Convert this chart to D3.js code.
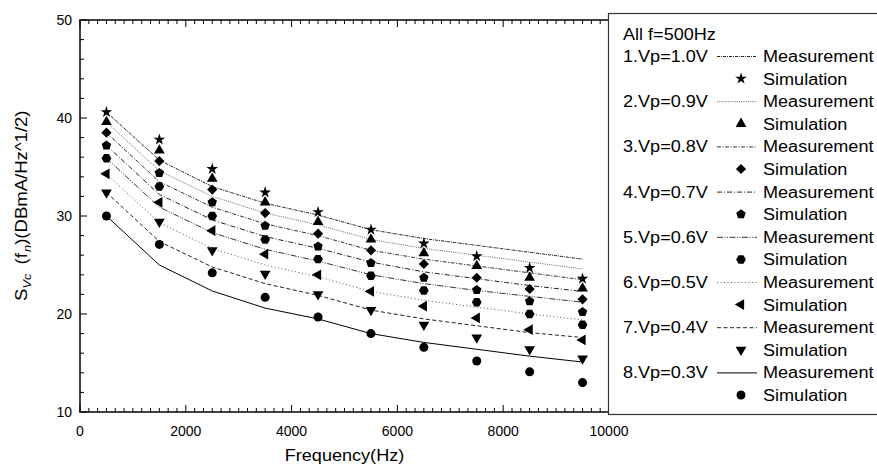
<!DOCTYPE html>
<html>
<head>
<meta charset="utf-8">
<script src="https://cdn.jsdelivr.net/npm/d3@7"></script>
<style>
  body { margin: 0; background: #fff; }
  text { font-family: "Liberation Sans", Arial, sans-serif; fill: #000; }
</style>
</head>
<body>
<div id="chart"></div>
<script>
// frequencies (Hz)
var freq = [500, 1500, 2500, 3500, 4500, 5500, 6500, 7500, 8500, 9500];
var vpLabels = ["1.Vp=1.0V", "2.Vp=0.9V", "3.Vp=0.8V", "4.Vp=0.7V", "5.Vp=0.6V", "6.Vp=0.5V", "7.Vp=0.4V", "8.Vp=0.3V"];

// measurement curves
var meas10 = [40.6, 35.7, 33.0, 31.3, 30.1, 28.6, 27.7, 27.0, 26.3, 25.6];
var meas09 = [39.6, 34.6, 32.0, 30.3, 29.1, 27.6, 26.7, 26.0, 25.3, 24.6];
var meas08 = [38.5, 33.5, 30.9, 29.2, 28.0, 26.5, 25.6, 24.9, 24.2, 23.5];
var meas07 = [37.2, 32.2, 29.6, 27.9, 26.7, 25.3, 24.3, 23.6, 22.9, 22.3];
var meas06 = [35.9, 30.9, 28.3, 26.6, 25.4, 24.0, 23.1, 22.4, 21.8, 21.2];
var meas05 = [34.3, 29.3, 26.7, 25.0, 23.8, 22.3, 21.4, 20.7, 20.0, 19.4];
var meas04 = [32.4, 27.4, 24.8, 23.1, 21.9, 20.4, 19.5, 18.8, 18.1, 17.6];
var meas03 = [30.0, 25.0, 22.35, 20.6, 19.5, 18.0, 17.1, 16.4, 15.7, 15.1];

// simulation points
var sim10 = [40.6, 37.8, 34.8, 32.4, 30.4, 28.6, 27.2, 25.9, 24.7, 23.6];
var sim09 = [39.6, 36.7, 33.8, 31.4, 29.4, 27.6, 26.2, 24.9, 23.7, 22.6];
var sim08 = [38.5, 35.6, 32.7, 30.3, 28.2, 26.5, 25.1, 23.7, 22.55, 21.5];
var sim07 = [37.2, 34.4, 31.4, 29.0, 26.9, 25.2, 23.7, 22.45, 21.3, 20.2];
var sim06 = [35.9, 33.0, 30.0, 27.6, 25.6, 23.9, 22.4, 21.2, 20.0, 18.9];
var sim05 = [34.3, 31.4, 28.5, 26.1, 24.0, 22.3, 20.8, 19.6, 18.4, 17.35];
var sim04 = [32.4, 29.4, 26.5, 24.1, 22.0, 20.4, 18.9, 17.6, 16.4, 15.45];
var sim03 = [30.0, 27.1, 24.2, 21.7, 19.7, 18.0, 16.6, 15.2, 14.1, 13.0];

var xTicks = [0, 2000, 4000, 6000, 8000, 10000];
var yTicks = [10, 20, 30, 40, 50];

var measAll = [meas10, meas09, meas08, meas07, meas06, meas05, meas04, meas03];
var simAll = [sim10, sim09, sim08, sim07, sim06, sim05, sim04, sim03];

var width = 877, height = 465;
var svg = d3.select("#chart").append("svg")
    .attr("width", width)
    .attr("height", height);

var x = d3.scaleLinear().domain([0, 10000]).range([80, 609]);
var y = d3.scaleLinear().domain([10, 50]).range([412, 20]);

// custom polygon markers
function polygon(n, rot) {
  return {
    draw: function(context, size) {
      var r = Math.sqrt(size / (0.5 * n * Math.sin(2 * Math.PI / n)));
      for (var i = 0; i < n; i++) {
        var a = rot + i * 2 * Math.PI / n;
        var px = r * Math.sin(a), py = -r * Math.cos(a);
        if (i === 0) context.moveTo(px, py); else context.lineTo(px, py);
      }
      context.closePath();
    }
  };
}

var markers = [
  { type: d3.symbolStar, size: 42, rot: 0 },
  { type: d3.symbolTriangle, size: 50, rot: 0 },
  { type: d3.symbolSquare, size: 52, rot: 45 },
  { type: polygon(5, 0), size: 58, rot: 0 },
  { type: polygon(6, Math.PI / 6), size: 62, rot: 0 },
  { type: d3.symbolTriangle, size: 50, rot: -90 },
  { type: d3.symbolTriangle, size: 50, rot: 180 },
  { type: d3.symbolCircle, size: 64, rot: 0 }
];

var dashes = ["3,1,1,1", "1,1.2", "4,1.5,1,1.5", "5,2,1,2", "6,1.5,1,1.5,1,1.5", "1,2.5", "4,2.5", null];
var strokes = ["#222", "#666", "#333", "#222", "#333", "#555", "#222", "#000"];

// measurement lines
var line = d3.line()
    .x(function(d) { return x(d[0]); })
    .y(function(d) { return y(d[1]); });

measAll.forEach(function(vals, i) {
  svg.append("path")
      .datum(freq.map(function(f, j) { return [f, vals[j]]; }))
      .attr("d", line)
      .attr("fill", "none")
      .attr("stroke", strokes[i])
      .attr("stroke-width", 1)
      .attr("stroke-dasharray", dashes[i]);
});

// simulation markers
simAll.forEach(function(vals, i) {
  var m = markers[i];
  svg.append("g").selectAll("path")
    .data(freq.map(function(f, j) { return [f, vals[j]]; }))
    .enter().append("path")
      .attr("d", d3.symbol().type(m.type).size(m.size))
      .attr("transform", function(d) { return "translate(" + x(d[0]) + "," + y(d[1]) + ") rotate(" + m.rot + ")"; })
      .attr("fill", "#000");
});

// axes frame
var axisG = svg.append("g").attr("stroke", "#000");
axisG.append("line").attr("x1", 80).attr("x2", 80).attr("y1", 20).attr("y2", 412).attr("stroke-width", 1.5);
axisG.append("line").attr("x1", 79.25).attr("x2", 609).attr("y1", 412).attr("y2", 412).attr("stroke-width", 1.5);
axisG.append("line").attr("x1", 79.25).attr("x2", 609).attr("y1", 20).attr("y2", 20).attr("stroke-width", 1.5);

// x ticks (bottom + top, inward)
var xMinor = d3.range(0, 10001, 2000 / 12);
xMinor.forEach(function(v) {
  var major = Math.abs(v / 2000 - Math.round(v / 2000)) < 1e-6;
  var len = major ? 7 : 4;
  axisG.append("line").attr("x1", x(v)).attr("x2", x(v)).attr("y1", 412).attr("y2", 412 - len).attr("stroke-width", 1);
  axisG.append("line").attr("x1", x(v)).attr("x2", x(v)).attr("y1", 20).attr("y2", 20 + len).attr("stroke-width", 1);
});
d3.range(10, 50.01, 2).forEach(function(v) {
  var len = v % 10 === 0 ? 7 : 4;
  axisG.append("line").attr("x1", 80).attr("x2", 80 + len).attr("y1", y(v)).attr("y2", y(v)).attr("stroke-width", 1);
});

// tick labels
svg.append("g").selectAll("text")
  .data(xTicks).enter().append("text")
    .attr("x", function(d) { return x(d); })
    .attr("y", 436)
    .attr("text-anchor", "middle")
    .style("font-size", "14px")
    .text(function(d) { return d; });

svg.append("g").selectAll("text")
  .data(yTicks).enter().append("text")
    .attr("x", 72)
    .attr("y", function(d) { return y(d) + 5; })
    .attr("text-anchor", "end")
    .style("font-size", "14px")
    .text(function(d) { return d; });

// axis titles
svg.append("text")
    .attr("transform", "translate(344.5,461) scale(1.13,1)")
    .attr("text-anchor", "middle")
    .style("font-size", "16px")
    .text("Frequency(Hz)");

var yt = svg.append("text")
    .attr("transform", "translate(27,301) rotate(-90) scale(1.16,1)")
    .attr("text-anchor", "start")
    .style("font-size", "16px");
yt.append("tspan").text("S");
yt.append("tspan").attr("dy", 4).style("font-size", "11px").style("font-style", "italic").text("Vc");
yt.append("tspan").attr("dy", -4).attr("dx", 8).text("(f");
yt.append("tspan").attr("dy", 4).attr("dx", 1).style("font-size", "11px").style("font-style", "italic").text("n");
yt.append("tspan").attr("dy", -4).text(")(DBmA/Hz^1/2)");

// legend
var lg = svg.append("g");
lg.append("rect")
    .attr("x", 608.5).attr("y", 13.5)
    .attr("width", 300).attr("height", 401)
    .attr("fill", "#fff")
    .attr("stroke", "#333")
    .attr("stroke-width", 1.2);

function ltext(tx, ty, str) {
  lg.append("text")
      .attr("transform", "translate(" + tx + "," + ty + ") scale(1.13,1)")
      .style("font-size", "16px")
      .text(str);
}

ltext(623, 40, "All f=500Hz");
var rowH = 22.6;
vpLabels.forEach(function(lab, i) {
  var b1 = 62 + i * 2 * rowH, b2 = b1 + rowH;
  ltext(623, b1, lab);
  lg.append("line")
      .attr("x1", 717).attr("x2", 757)
      .attr("y1", b1 - 5.5).attr("y2", b1 - 5.5)
      .attr("stroke", strokes[i])
      .attr("stroke-width", 1)
      .attr("stroke-dasharray", dashes[i]);
  ltext(763, b1, "Measurement");
  var m = markers[i];
  lg.append("path")
      .attr("d", d3.symbol().type(m.type).size(m.size))
      .attr("transform", "translate(741," + (b2 - 6) + ") rotate(" + m.rot + ")")
      .attr("fill", "#000");
  ltext(763, b2, "Simulation");
});
</script>
</body>
</html>
